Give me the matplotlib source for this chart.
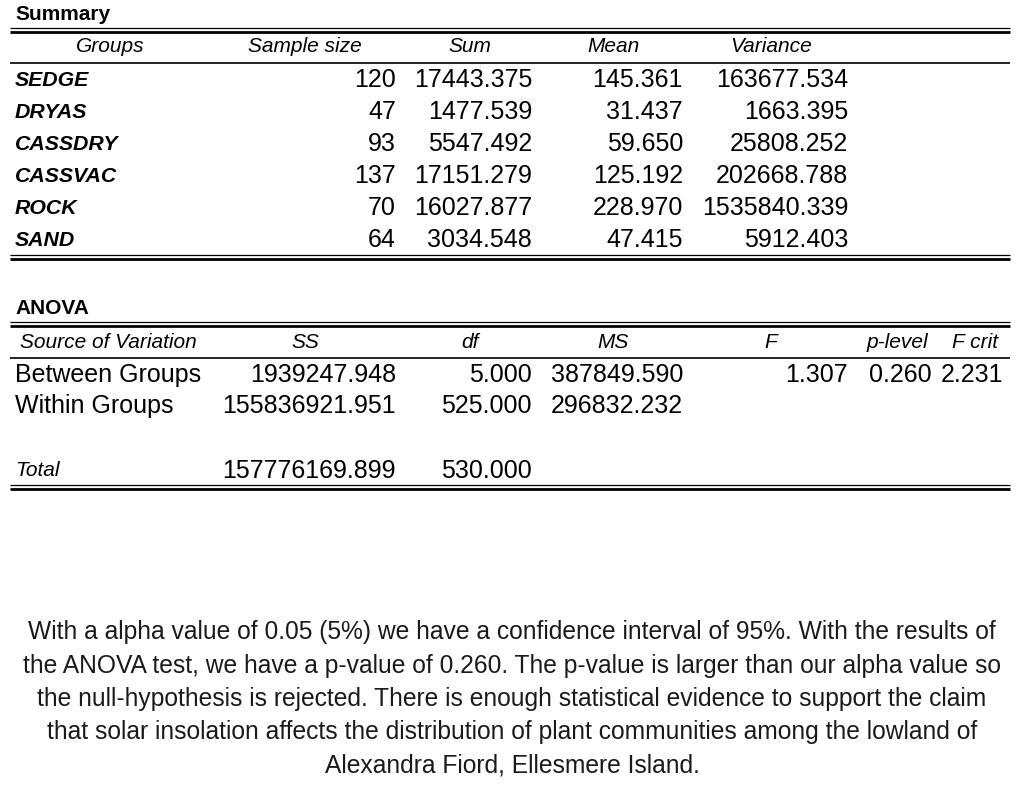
import matplotlib.pyplot as plt

plt.rcParams['font.family'] = ['Liberation Sans', 'DejaVu Sans']

# summary table
groups = ["SEDGE", "DRYAS", "CASSDRY", "CASSVAC", "ROCK", "SAND"]
sample_size = [120, 47, 93, 137, 70, 64]
sums = [17443.375, 1477.539, 5547.492, 17151.279, 16027.877, 3034.548]
means = [145.361, 31.437, 59.650, 125.192, 228.970, 47.415]
variances = [163677.534, 1663.395, 25808.252, 202668.788, 1535840.339, 5912.403]
summary_headers = ["Groups", "Sample size", "Sum", "Mean", "Variance"]

# anova table
sources = ["Between Groups", "Within Groups"]
ss = [1939247.948, 155836921.951]
df = [5.000, 525.000]
ms = [387849.590, 296832.232]
f_val = 1.307
p_level = 0.260
f_crit = 2.231
total_ss = 157776169.899
total_df = 530.000
anova_headers = ["Source of Variation", "SS", "df", "MS", "F", "p-level", "F crit"]

paragraph = [
    "With a alpha value of 0.05 (5%) we have a confidence interval of 95%. With the results of",
    "the ANOVA test, we have a p-value of 0.260. The p-value is larger than our alpha value so",
    "the null-hypothesis is rejected. There is enough statistical evidence to support the claim",
    "that solar insolation affects the distribution of plant communities among the lowland of",
    "Alexandra Fiord, Ellesmere Island.",
]

fig = plt.figure(figsize=(10.24, 7.86), dpi=100)
ax = fig.add_axes([0, 0, 1, 1])
ax.set_xlim(0, 1024)
ax.set_ylim(786, 0)
ax.axis("off")

X0, X1 = 10, 1010
FS = 18
HFS = 15
GFS = 15.3


def hline(y, lw):
    ax.plot([X0, X1], [y, y], color="black", lw=lw, solid_capstyle="butt")


def double(y):
    hline(y, 0.9)
    hline(y + 3.5, 2.0)


def num(x, y, v, fmt="{:.3f}"):
    ax.text(x, y, fmt.format(v), ha="right", va="center", fontsize=FS)


# --- Summary ---
ax.text(15, 15, "Summary", fontsize=15, fontweight="bold", va="center")
double(28)
hcent = [110, 305, 470, 613, 771]
for x, h in zip(hcent, summary_headers):
    ax.text(x, 47, h, ha="center", va="center", fontsize=HFS, style="italic")
hline(63, 1.2)

right = [396, 532, 683, 848]
for i, g in enumerate(groups):
    y = 80 + i * 32
    ax.text(15, y, g, fontsize=GFS, fontweight="bold", style="italic", va="center")
    num(right[0], y, sample_size[i], "{:d}")
    num(right[1], y, sums[i])
    num(right[2], y, means[i])
    num(right[3], y, variances[i])
double(255)

# --- ANOVA ---
ax.text(15, 308, "ANOVA", fontsize=15, fontweight="bold", va="center")
double(322)
acent = [None, 305, 470, 613, 771, 897, 975]
ax.text(20, 343, anova_headers[0], ha="left", va="center", fontsize=HFS, style="italic")
for x, h in zip(acent[1:], anova_headers[1:]):
    ax.text(x, 343, h, ha="center", va="center", fontsize=HFS, style="italic")
hline(358, 1.2)

aright = [396, 532, 683, 848, 932, 1003]
for i, s in enumerate(sources):
    y = 375 + i * 31
    ax.text(15, y, s, fontsize=FS, va="center")
    num(aright[0], y, ss[i])
    num(aright[1], y, df[i])
    num(aright[2], y, ms[i])
num(aright[3], 375, f_val)
num(aright[4], 375, p_level)
num(aright[5], 375, f_crit)

ax.text(15, 471, "Total", fontsize=HFS, style="italic", va="center")
num(aright[0], 471, total_ss)
num(aright[1], 471, total_df)
double(485)

# --- conclusion ---
for i, line in enumerate(paragraph):
    ax.text(512, 632 + i * 33.5, line, ha="center", va="center", fontsize=17.7, color="#1a1a1a")

fig.savefig("out.png", dpi=100)
